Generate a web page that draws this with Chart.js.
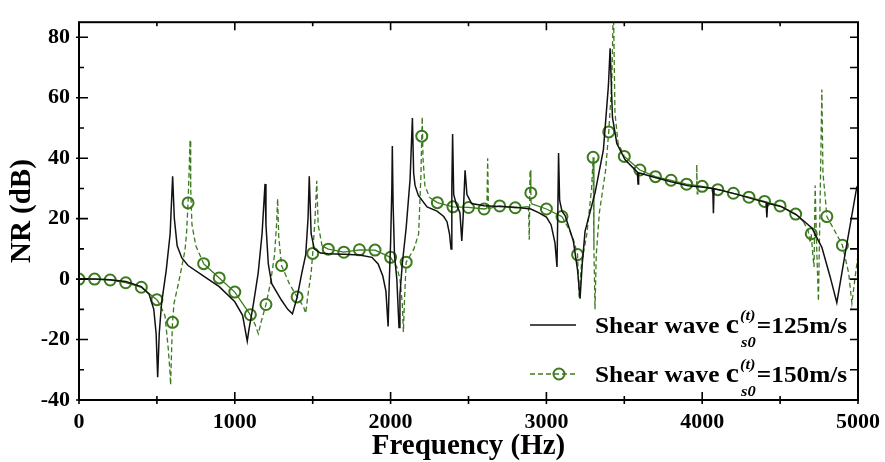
<!DOCTYPE html>
<html lang="en">
<head>
<meta charset="UTF-8">
<title>NR vs Frequency</title>
<script src="https://cdn.jsdelivr.net/npm/chart.js"></script>
<style>
  body { margin: 0; background: #fff; }
  #nr-chart { display: block; }
</style>
</head>
<body>
<canvas id="nr-chart" width="885" height="462"></canvas>
<script>
// shear wave 125 m/s (black solid)
const blackFreq = [0, 100, 200, 300, 400, 450, 480, 495, 505, 515, 530, 560, 585, 601, 612, 630, 660, 700, 800, 900,
  1000, 1050, 1080, 1090, 1120, 1150, 1175, 1194, 1200, 1215, 1237, 1300, 1340, 1370, 1400, 1430, 1455, 1470, 1478, 1490,
  1510, 1550, 1600, 1700, 1800, 1880, 1920, 1950, 1970, 1984, 1992, 2000, 2008, 2011, 2016, 2025, 2040, 2054, 2060, 2075,
  2100, 2125, 2140, 2148, 2157, 2178, 2234, 2298, 2341, 2362, 2378, 2388, 2393, 2398, 2405, 2420, 2445, 2457, 2465, 2478,
  2490, 2520, 2600, 2700, 2800, 2900, 2950, 3000, 3030, 3055, 3068, 3074, 3078, 3085, 3100, 3120, 3173, 3200, 3216, 3230,
  3248, 3313, 3366, 3398, 3409, 3424, 3452, 3505, 3584, 3588, 3592, 3698, 3800, 3912, 4008, 4068, 4072, 4076, 4115, 4211,
  4307, 4410, 4415, 4420, 4511, 4607, 4704, 4768, 4821, 4864, 4917, 4992, 5000];
const blackNR = [0, 0, -0.2, -0.8, -2.5, -5, -10, -18, -32.5, -18, -8, 3, 15, 34, 20, 11, 7, 4.5, 1, -2.5,
  -7.5, -12, -20.5, -17, -8, 2, 15, 31.5, 18, 5, -1.5, -7, -10, -11.5, -6, 2, 8, 20, 34, 15,
  10, 8.6, 8.4, 8.2, 8, 7.2, 5, 1, -4, -15.7, 0, 12, 30, 44, 25, 8, 0, -16, -5, 5,
  17, 33, 53.3, 35, 31, 27.7, 23.9, 22.5, 20.7, 19, 15, 10, 30, 48, 28, 25, 22, 12.6, 20, 36,
  28, 25, 24.3, 24, 23.8, 23.2, 22, 20.5, 18, 12, 4, 25, 41.7, 26, 22.5, 21, 12.6, 3, -6.5, 5,
  15.8, 28.7, 42.8, 64, 76.4, 53.5, 44.9, 39.5, 35.4, 31.5, 35.2, 33.6, 32.2, 30.9, 30.4, 30, 21.8, 29.9, 29.5, 28.2,
  26.8, 25.3, 20.4, 25.1, 23.9, 21.2, 16.9, 10.5, 0.8, -7.8, 8.3, 30.4, 31];

// shear wave 150 m/s (green dashed), points between the markers
const greenFreq = [520, 552, 573, 583, 588, 594, 610, 640, 680, 690, 708, 713, 717, 725, 750,
  1130, 1151, 1170, 1230, 1255, 1268, 1275, 1282, 1350, 1440, 1455, 1470, 1490, 1515, 1526, 1535, 1560,
  2040, 2060, 2075, 2082, 2090, 2150, 2180, 2195, 2203, 2208, 2220, 2250,
  2618, 2623, 2628, 2885, 2890, 2895, 2902,
  3150, 3180, 3210, 3225, 3260, 3290, 3305, 3312, 3320, 3340, 3380, 3420, 3430, 3440, 3460,
  3962, 3965, 3968, 3972,
  4650, 4680, 4693, 4710, 4718, 4725, 4735, 4746, 4755, 4768, 4775, 4790, 4850, 4940, 4961, 4980, 5000];
const greenNR = [-8.5, -12.1, -23, -30, -35, -24, -8, -1, 9.4, 15, 38, 46, 30, 18, 11,
  -15, -18.1, -14, -1, 8, 18, 26.6, 14, -1.5, -9, -11.3, -5, 2, 20, 32.5, 18, 11,
  4, 0, -8, -17.5, -6, 10, 15, 35, 53.7, 40, 31, 27,
  23.4, 40, 23.3, 24, 13, 36, 25,
  16, 12, -6, 5, 15, 30, 10, -10, 8, 22, 36, 65, 92, 55, 45,
  31, 37.9, 28.2, 30.9,
  19, 16, 12, 8, 4, 31, 10, -7.3, 20, 62.7, 35, 27, 16, 2, -8, 0, 8];

// circle markers of the 150 m/s curve
const markerFreq = [0, 100, 200, 300, 400, 500, 600, 700, 800, 900,
  1000, 1100, 1200, 1300, 1400, 1500, 1600, 1700, 1800, 1900,
  2000, 2100, 2200, 2300, 2400, 2500, 2600, 2700, 2800, 2900,
  3000, 3100, 3200, 3300, 3400, 3500, 3600, 3700, 3800, 3900,
  4000, 4100, 4200, 4300, 4400, 4500, 4600, 4700, 4800, 4900];
const markerNR = [0, 0, -0.3, -1.2, -2.7, -6.8, -14.3, 25.2, 5.1, 0.4,
  -4.3, -11.8, -8.4, 4.5, -5.9, 8.5, 9.9, 8.9, 9.7, 9.6,
  7.2, 5.6, 47.3, 25.3, 23.9, 23.7, 23.2, 24.2, 23.6, 28.5,
  23.2, 20.7, 8.1, 40.3, 48.7, 40.6, 36.1, 33.9, 32.7, 31.4,
  30.7, 29.6, 28.4, 27.1, 25.7, 24.2, 21.5, 15, 20.7, 11.2];

const legendSpeeds = ['125', '150'];

const GREEN = '#3c7a1e';
const SERIF = "'Liberation Serif', 'Times New Roman', serif";

const blackData = blackFreq.map((f, i) => ({ x: f, y: blackNR[i] }));
const markerData = markerFreq.map((f, i) => ({ x: f, y: markerNR[i] }));
const greenData = greenFreq.map((f, i) => ({ x: f, y: greenNR[i] }))
  .concat(markerData)
  .sort((a, b) => a.x - b.x);

// steep parts of the green curve are drawn dashed
function steepDash(ctx) {
  const dx = Math.abs(ctx.p1.x - ctx.p0.x);
  const dy = Math.abs(ctx.p1.y - ctx.p0.y);
  return dy > 1.5 * dx ? [5, 3] : undefined;
}

const framePlugin = {
  id: 'frame',
  afterDraw(chart) {
    const { ctx, chartArea: a, scales: { x, y } } = chart;
    ctx.save();
    ctx.strokeStyle = '#000';
    ctx.lineWidth = 2;
    ctx.strokeRect(a.left, a.top, a.right - a.left, a.bottom - a.top);

    ctx.lineWidth = 1.6;
    ctx.beginPath();
    for (let v = 0; v <= 5000; v += 500) {
      const px = x.getPixelForValue(v);
      const major = v % 1000 === 0;
      ctx.moveTo(px, a.bottom + 4);
      ctx.lineTo(px, a.bottom - (major ? 8 : 4));
      ctx.moveTo(px, a.top);
      ctx.lineTo(px, a.top + (major ? 8 : 4));
    }
    for (let v = -40; v <= 80; v += 10) {
      const py = y.getPixelForValue(v);
      const major = v % 20 === 0;
      ctx.moveTo(a.left - (major ? 3 : 0), py);
      ctx.lineTo(a.left + (major ? 9 : 5), py);
      ctx.moveTo(a.right, py);
      ctx.lineTo(a.right - 8, py);
    }
    ctx.stroke();

    drawLegendRow(ctx, 325, 333, legendSpeeds[0], false);
    drawLegendRow(ctx, 374, 382, legendSpeeds[1], true);
    ctx.restore();
  }
};

function drawLegendRow(ctx, lineY, baseY, speed, green) {
  ctx.save();
  ctx.strokeStyle = green ? GREEN : '#111';
  ctx.lineWidth = green ? 1.3 : 1.5;
  ctx.setLineDash(green ? [5, 3] : []);
  ctx.beginPath();
  ctx.moveTo(530, lineY);
  ctx.lineTo(576, lineY);
  ctx.stroke();
  if (green) {
    ctx.setLineDash([]);
    ctx.lineWidth = 2;
    ctx.beginPath();
    ctx.arc(559, lineY, 5.5, 0, Math.PI * 2);
    ctx.stroke();
  }
  ctx.restore();

  // text is a bit wider than the font, like the original figure
  ctx.save();
  ctx.translate(595, baseY);
  ctx.scale(1.1, 1);
  ctx.fillStyle = '#000';
  ctx.textBaseline = 'alphabetic';
  ctx.textAlign = 'left';
  let x = 0;
  ctx.font = `bold 23px ${SERIF}`;
  ctx.fillText('Shear wave ', x, 0);
  x += ctx.measureText('Shear wave ').width;
  ctx.font = `bold 27px ${SERIF}`;
  ctx.fillText('c', x, 0);
  x += ctx.measureText('c').width + 1;
  ctx.font = `italic bold 15px ${SERIF}`;
  ctx.fillText('(t)', x, -13);
  ctx.fillText('s0', x + 1, 14);
  x += Math.max(ctx.measureText('(t)').width, ctx.measureText('s0').width + 1) + 1;
  ctx.font = `bold 23px ${SERIF}`;
  ctx.fillText('=' + speed + 'm/s', x, 0);
  ctx.restore();
}

const tickFont = { family: SERIF, size: 22, weight: 'bold' };
const titleFont = { family: SERIF, size: 29, weight: 'bold', lineHeight: 1 };

new Chart(document.getElementById('nr-chart').getContext('2d'), {
  type: 'line',
  data: {
    datasets: [
      {
        label: 'Shear wave 125m/s',
        data: blackData,
        borderColor: '#111',
        borderWidth: 1.5,
        pointRadius: 0,
        tension: 0
      },
      {
        label: 'Shear wave 150m/s',
        data: greenData,
        borderColor: GREEN,
        borderWidth: 1.3,
        pointRadius: 0,
        tension: 0,
        segment: { borderDash: steepDash }
      },
      {
        label: 'markers',
        data: markerData,
        showLine: false,
        pointStyle: 'circle',
        pointRadius: 5.5,
        pointBorderWidth: 2,
        pointBorderColor: GREEN,
        pointBackgroundColor: 'rgba(0,0,0,0)'
      }
    ]
  },
  options: {
    responsive: false,
    animation: false,
    layout: { padding: { left: 0, top: 13, right: 27, bottom: 0 } },
    plugins: { legend: { display: false }, tooltip: { enabled: false } },
    scales: {
      x: {
        type: 'linear',
        min: 0,
        max: 5000,
        ticks: {
          stepSize: 1000, includeBounds: false, maxRotation: 0, autoSkip: false,
          color: '#000', font: tickFont, padding: 9,
          callback: v => String(v)
        },
        grid: { display: false, drawTicks: false },
        border: { display: false },
        title: { display: true, text: 'Frequency (Hz)', color: '#000', font: titleFont, padding: { top: 0, bottom: 1 } },
        afterFit: s => { s.height = 62; s.paddingRight = 27; s.paddingLeft = 0; }
      },
      y: {
        min: -40,
        max: 85,
        ticks: {
          stepSize: 20, includeBounds: false,
          color: '#000', font: tickFont, padding: 9,
          callback: v => String(v)
        },
        grid: { display: false, drawTicks: false },
        border: { display: false },
        title: { display: true, text: 'NR (dB)', color: '#000', font: titleFont, padding: { top: 8, bottom: 0 } },
        afterFit: s => { s.width = 79; }
      }
    }
  },
  plugins: [framePlugin]
});
</script>
</body>
</html>
